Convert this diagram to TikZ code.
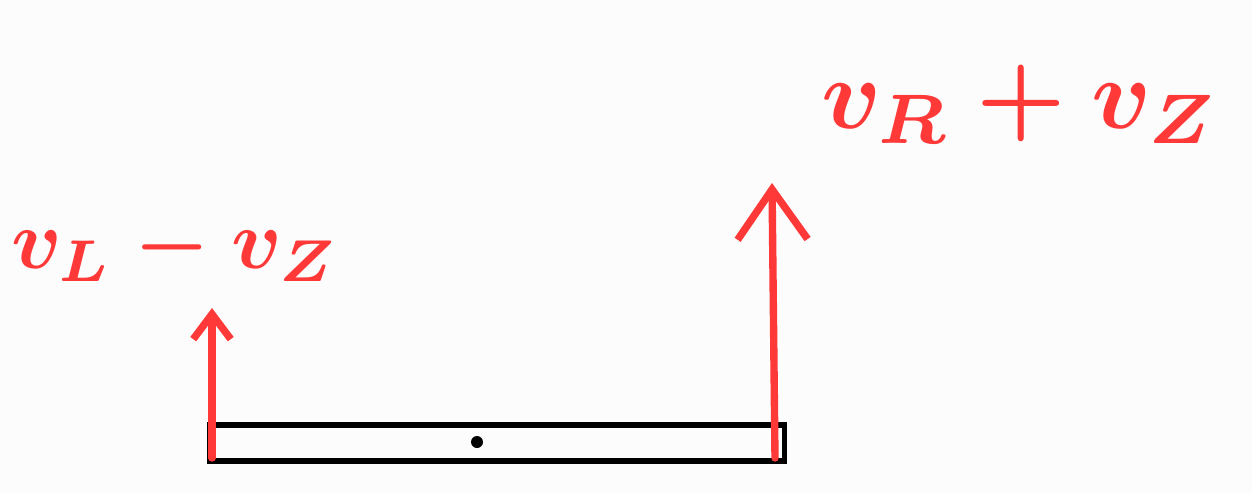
\documentclass[tikz,border=0pt]{standalone}
\usetikzlibrary{arrows.meta}
\definecolor{pen}{RGB}{255,56,56}
\definecolor{paper}{RGB}{252,252,252}
\tikzset{
  beam/.style={draw, line width=3pt, inner sep=0pt, minimum width=11.5cm, minimum height=0.72cm},
  pivot/.style={circle, fill, inner sep=0pt, minimum size=0.24cm},
  vel/.style={pen, line width=4.2pt, line cap=round},
  speed/.style={pen, inner sep=0pt, font=\boldmath}
}
\begin{document}
\begin{tikzpicture}[x=0.02cm,y=-0.02cm]
\fill[paper] (0,0) rectangle (1252,494);
\node[beam] (rod) at (497,443) {};
\node[pivot] (mid) at (477,442) {};
\coordinate (lfoot) at (212,458);
\coordinate (ltip) at (212,308);
\coordinate (rfoot) at (775,458);
\coordinate (rtip) at (772,183);
\draw[vel, -{Straight Barb[length=0.5cm, width=0.75cm]}] (lfoot) -- (ltip);
\draw[vel, -{Straight Barb[length=1cm, width=1.4cm]}] (rfoot) -- (rtip);
\node[speed, scale=4.8] (vleft) at (175,248) {$v_L - v_Z$};
\node[speed, scale=5.7] (vright) at (1020,104) {$v_R + v_Z$};
\end{tikzpicture}
\end{document}
